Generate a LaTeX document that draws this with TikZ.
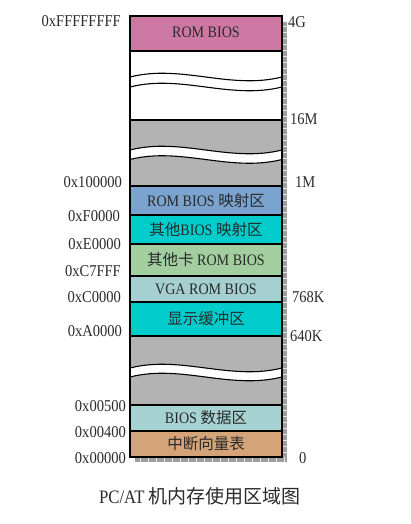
\documentclass[tikz,border=0pt]{standalone}
\usepackage{fontspec}
\setmainfont[FakeStretch=0.88]{Liberation Serif}
\newfontfamily\cjk{Noto Sans CJK SC}
\newcommand\zhtxt[1]{{\cjk\fontsize{15.5}{17}\selectfont #1}}
\newcommand\zhcap[1]{{\cjk\fontsize{19}{21}\selectfont #1}}
\definecolor{rompink}{HTML}{CD78A2}
\definecolor{romblue}{HTML}{7BA3CF}
\definecolor{memcyan}{HTML}{00CCCC}
\definecolor{cardgreen}{HTML}{A3CFA0}
\definecolor{vgateal}{HTML}{A6CFCF}
\definecolor{memgray}{HTML}{B3B3B3}
\definecolor{bdateal}{HTML}{A6D2D2}
\definecolor{ivttan}{HTML}{D4A378}
\definecolor{shadowgray}{HTML}{9E9E9E}
\definecolor{txtdark}{HTML}{2A2A2A}
\newcommand\memwave[2]{%
  \fill[white] (130.6,#1) .. controls (181,#1-13) and (230,#1+13) .. (281.4,#1)
     -- (281.4,#1+#2) .. controls (230,#1+#2+13) and (181,#1+#2-13) .. (130.6,#1+#2) -- cycle;
  \draw[line width=1.1pt] (130,#1) .. controls (181,#1-13) and (230,#1+13) .. (282,#1);
  \draw[line width=1.1pt] (130,#1+#2) .. controls (181,#1+#2-13) and (230,#1+#2+13) .. (282,#1+#2);}
\begin{document}
\begin{tikzpicture}[x=1pt,y=-1pt,
  blk/.style={draw=black, line width=1.2pt, minimum width=152pt, inner sep=0pt, outer sep=0pt,
    font=\fontsize{16}{18}\selectfont, text=txtdark},
  addr/.style={anchor=east, inner sep=0pt, font=\fontsize{16.5}{18}\selectfont, text=txtdark},
  sizelbl/.style={anchor=west, inner sep=0pt, font=\fontsize{16.5}{18}\selectfont, text=txtdark},
  border/.style={line width=1.2pt}]
\useasboundingbox (0,0) rectangle (410,524);
% shadow
\fill[shadowgray] (282,22) rectangle (287,462);
\fill[shadowgray] (135,457) rectangle (287,462);
\foreach \yy in {26,32,...,456} \draw[white!75!shadowgray, line width=0.4pt] (282,\yy) -- (287,\yy);
\foreach \xx in {140,148,...,284} \draw[white!75!shadowgray, line width=0.4pt] (\xx,457) -- (\xx,462);
% blocks
\node[blk, fill=rompink, minimum height=35pt] (rom) at (206,33.5) {\raisebox{3pt}{ROM BIOS}};
\node[blk, fill=white, minimum height=69pt] (high) at (206,85.5) {};
\node[blk, fill=memgray, minimum height=66pt] (ext) at (206,153) {};
\node[blk, fill=romblue, minimum height=29pt] (romm) at (206,200.5) {ROM BIOS \zhtxt{映射区}};
\node[blk, fill=memcyan, minimum height=29pt] (other) at (206,229.5) {\zhtxt{其他}BIOS \zhtxt{映射区}};
\node[blk, fill=cardgreen, minimum height=32pt] (card) at (206,260) {\zhtxt{其他卡} ROM BIOS};
\node[blk, fill=vgateal, minimum height=26pt] (vga) at (206,289) {VGA ROM BIOS};
\node[blk, fill=memcyan, minimum height=34pt] (disp) at (206,319) {\raisebox{3pt}{\zhtxt{显示缓冲区}}};
\node[blk, fill=memgray, minimum height=69pt] (low) at (206,370.5) {};
\node[blk, fill=bdateal, minimum height=26pt] (bda) at (206,418) {BIOS \zhtxt{数据区}};
\node[blk, fill=ivttan, minimum height=26pt] (ivt) at (206,444) {\zhtxt{中断向量表}};
% breaks
\memwave{77}{10}
\memwave{150}{9.5}
\memwave{368}{9}
\draw[border] (rom.north west) -- (ivt.south west);
\draw[border] (rom.north east) -- (ivt.south east);
% addresses
\node[addr] (a1) at (121,21.5) {0xFFFFFFFF};
\node[addr] (a2) at (122,182) {0x100000};
\node[addr] (a3) at (120,216.5) {0xF0000};
\node[addr] (a4) at (121,244) {0xE0000};
\node[addr] (a5) at (121,271) {0xC7FFF};
\node[addr] (a6) at (121,297.5) {0xC0000};
\node[addr] (a7) at (122,331.5) {0xA0000};
\node[addr] (a8) at (126,406) {0x00500};
\node[addr] (a9) at (126,432) {0x00400};
\node[addr] (a10) at (126,458.5) {0x00000};
% sizes
\node[sizelbl] (s1) at (288,22) {4G};
\node[sizelbl] (s2) at (290,119) {16M};
\node[sizelbl] (s3) at (295,182) {1M};
\node[sizelbl] (s4) at (292,297.5) {768K};
\node[sizelbl] (s5) at (290,336.5) {640K};
\node[sizelbl] (s6) at (299,458.5) {0};
% caption
\node[inner sep=0pt, font=\fontsize{19}{21}\selectfont, text=txtdark] (cap) at (200,496) {PC/AT \zhcap{机内存使用区域图}};
\end{tikzpicture}
\end{document}
